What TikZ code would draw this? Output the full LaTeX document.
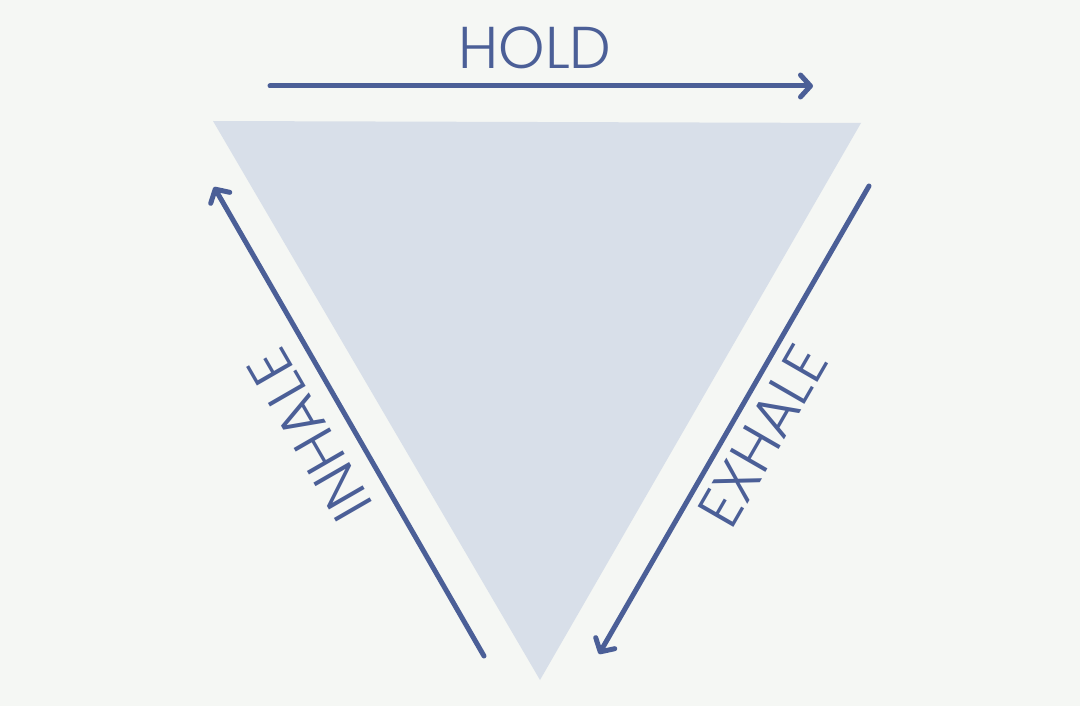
\documentclass[tikz,border=0pt]{standalone}
\usepackage{fontspec}
\setmainfont{Poppins}[UprightFont=* Light]
\usetikzlibrary{arrows.meta}
\definecolor{bgc}{HTML}{F5F7F4}
\definecolor{trif}{HTML}{D8DFE9}
\definecolor{linec}{HTML}{4B5F97}
\tikzset{
  flow/.style={draw=linec, line width=5pt, line cap=round,
    -{Straight Barb[length=10pt,width=22pt,round]}},
  lbl/.style={text=linec, font=\fontsize{59}{62}\selectfont, inner sep=0pt}
}
\begin{document}
\begin{tikzpicture}[x=1pt,y=-1pt]
\fill[bgc] (0,0) rectangle (1080,706);
\useasboundingbox (0,0) rectangle (1080,706);
\fill[trif] (213,121) -- (861,123) -- (540,680) -- cycle;
\coordinate (h1) at (270,86);
\coordinate (h2) at (813,86);
\coordinate (i1) at (484,656);
\coordinate (i2) at (214,187);
\coordinate (e1) at (869,186);
\coordinate (e2) at (599,654);
\draw[flow] (h1) -- (h2);
\draw[flow] (i1) -- (i2);
\draw[flow] (e1) -- (e2);
\node[lbl] (hold) at (535,48) {HOLD};
\node[lbl, rotate=120] (inhale) at (310,435) {INHALE};
\node[lbl, rotate=60] (exhale) at (763,436) {EXHALE};
\end{tikzpicture}
\end{document}
